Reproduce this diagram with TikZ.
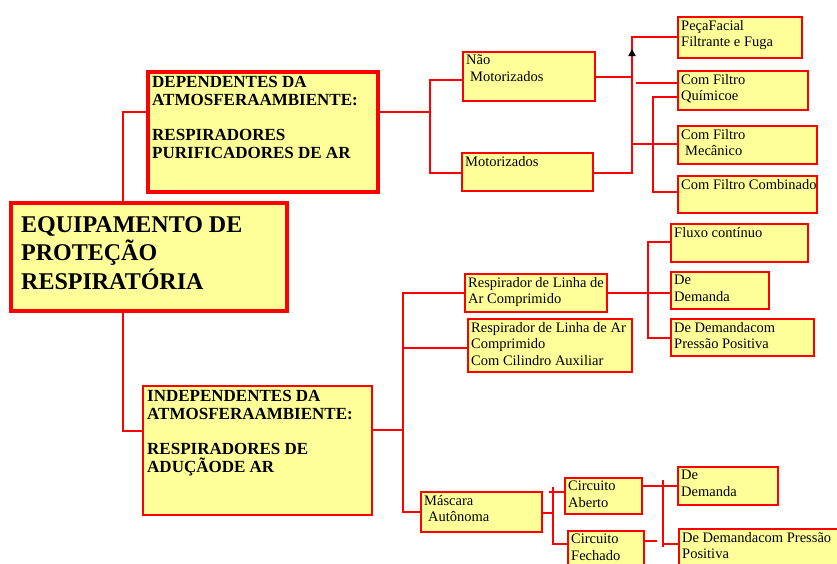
\documentclass[tikz,border=0pt]{standalone}
\usepackage{fontspec}
\setmainfont{Liberation Serif}
\usepackage{tikz}
\usetikzlibrary{arrows.meta,positioning}
\definecolor{boxfill}{RGB}{255,255,153}

\begin{document}
\begin{tikzpicture}[x = 1pt, y = -1pt]
	\tikzstyle{box} = [draw = red, fill = boxfill, line width = 2pt, anchor = north west, outer sep = 0pt, inner sep = 0pt]
	\tikzstyle{bigbox} = [box, line width = 3.5pt]
	\tikzstyle{txt} = [anchor = north west, align = left, inner sep = 3pt, font = \fontsize{14.5}{16.5}\selectfont]
	\tikzstyle{head} = [txt, inner sep = 4pt, font = \bfseries\fontsize{17}{18}\selectfont]
	\tikzstyle{wire} = [draw = red, line width = 1.8pt]
\clip (0,0) rectangle (837,563);
\node[bigbox, minimum width = 276, minimum height = 108] (eqp) at (11,203) {};
\node[txt, inner xsep = 10pt, inner ysep = 13pt, font = \bfseries\fontsize{24}{28.5}\selectfont] (eqp-t) at (eqp.north west) {EQUIPAMENTO DE\\PROTEÇÃO\\RESPIRATÓRIA};
\node[bigbox, minimum width = 230, minimum height = 120] (dep) at (148,72) {};
\node[head] (dep-t) at (dep.north west) {DEPENDENTES DA\\ATMOSFERAAMBIENTE:\\[17pt]RESPIRADORES\\PURIFICADORES DE AR};
\node[box, line width = 2.5pt, minimum width = 229, minimum height = 129] (ind) at (143,386) {};
\node[head] (ind-t) at (ind.north west) {INDEPENDENTES DA\\ATMOSFERAAMBIENTE:\\[17pt]RESPIRADORES DE\\ADUÇÃODE AR};
\node[box, minimum width = 132, minimum height = 49] (nm) at (463,52) {};
\node[txt] (nm-t) at (nm.north west) {Não\\\hspace{4pt}Motorizados};
\node[box, minimum width = 131, minimum height = 38] (mot) at (462,153) {};
\node[txt] (mot-t) at (mot.north west) {Motorizados};
\node[box, minimum width = 124, minimum height = 41] (pf) at (678,17) {};
\node[txt] (pf-t) at (pf.north west) {PeçaFacial\\Filtrante e Fuga};
\node[box, minimum width = 130, minimum height = 39] (cfq) at (678,71) {};
\node[txt] (cfq-t) at (cfq.north west) {Com Filtro\\Químicoe};
\node[box, minimum width = 139, minimum height = 38] (cfm) at (678,126) {};
\node[txt] (cfm-t) at (cfm.north west) {Com Filtro\\\hspace{4pt}Mecânico};
\node[box, minimum width = 139, minimum height = 37] (cfc) at (678,176) {};
\node[txt] (cfc-t) at (cfc.north west) {Com Filtro Combinado};
\node[box, minimum width = 142, minimum height = 38] (r1) at (465,274) {};
\node[txt] (r1-t) at (r1.north west) {Respirador de Linha de\\Ar Comprimido};
\node[box, minimum width = 164, minimum height = 53] (r2) at (468,319) {};
\node[txt] (r2-t) at (r2.north west) {Respirador de Linha de Ar\\Comprimido\\Com Cilindro Auxiliar};
\node[box, minimum width = 137, minimum height = 38] (flx) at (671,224) {};
\node[txt] (flx-t) at (flx.north west) {Fluxo contínuo};
\node[box, minimum width = 98, minimum height = 37] (dd1) at (671,272) {};
\node[txt] (dd1-t) at (dd1.north west) {De\\Demanda};
\node[box, minimum width = 143, minimum height = 37] (dp1) at (671,319) {};
\node[txt] (dp1-t) at (dp1.north west) {De Demandacom\\Pressão Positiva};
\node[box, minimum width = 121, minimum height = 40] (mas) at (421,492) {};
\node[txt] (mas-t) at (mas.north west) {Máscara\\\hspace{4pt}Autônoma};
\node[box, minimum width = 77, minimum height = 36] (ca) at (565,478) {};
\node[txt] (ca-t) at (ca.north west) {Circuito\\Aberto};
\node[box, minimum width = 76, minimum height = 50] (cf) at (568,531) {};
\node[txt] (cf-t) at (cf.north west) {Circuito\\Fechado};
\node[box, minimum width = 100, minimum height = 38] (dd2) at (678,467) {};
\node[txt] (dd2-t) at (dd2.north west) {De\\Demanda};
\node[box, minimum width = 180, minimum height = 50] (dp2) at (679,529) {};
\node[txt] (dp2-t) at (dp2.north west) {De Demandacom Pressão\\Positiva};
\coordinate (a0) at (123,112);
\coordinate (a1) at (123,431);
	\path[wire] (a0 -| dep.west) -- (a0) -- (a0 |- eqp.north);
	\path[wire] (a1 |- eqp.south) -- (a1) -- (a1 -| ind.west);
\coordinate (b0) at (430,112);
\coordinate (b1) at (430,80);
\coordinate (b2) at (430,173);
	\path[wire] (b0 -| dep.east) -- (b0);
	\path[wire] (b1 -| nm.west) -- (b1) -- (b2) -- (b2 -| mot.west);
\coordinate (c0) at (632,37);
\coordinate (c1) at (632,77);
\coordinate (c2) at (632,173);
\coordinate (c3) at (632,144);
\coordinate (c4) at (636,83);
\coordinate (tip0) at (632,60);
\coordinate (tip) at (632,49);
	\path[wire] (c1 -| nm.east) -- (c1);
	\path[wire] (c2 -| mot.east) -- (c2) -- (c0) -- (c0 -| pf.west);
	\path[wire] (c3) -- (c3 -| cfm.west);
	\path[wire] (c4) -- (c4 -| cfq.west);
	\path[wire, -{Triangle[length = 7pt, width = 7pt, color = black]}] (tip0) -- (tip);
\coordinate (d0) at (653,97);
\coordinate (d1) at (653,192);
	\path[wire] (d0 -| cfq.west) -- (d0) -- (d1) -- (d1 -| cfc.west);
\coordinate (e0) at (403,430);
\coordinate (e1) at (403,293);
\coordinate (e2) at (403,348);
\coordinate (e3) at (403,512);
	\path[wire] (e0 -| ind.east) -- (e0);
	\path[wire] (e1 -| r1.west) -- (e1) -- (e3) -- (e3 -| mas.west);
	\path[wire] (e2) -- (e2 -| r2.west);
\coordinate (f0) at (648,242);
\coordinate (f1) at (648,293);
\coordinate (f2) at (648,338);
	\path[wire] (f1 -| r1.east) -- (f1 -| dd1.west);
	\path[wire] (f0 -| flx.west) -- (f0) -- (f2) -- (f2 -| dp1.west);
\coordinate (g0) at (553,513);
\coordinate (g1) at (553,487);
\coordinate (g2) at (553,544);
\coordinate (g3) at (549,492);
	\path[wire] (g0 -| mas.east) -- (g0);
	\path[wire] (g1) -- (g2) -- (g2 -| cf.west);
	\path[wire] (g3) -- (g3 -| ca.west);
\coordinate (h0) at (663,480);
\coordinate (h1) at (663,547);
\coordinate (h2) at (663,486);
\coordinate (h3) at (663,544);
\coordinate (h4) at (657,541);
	\path[wire] (h2 -| ca.east) -- (h2 -| dd2.west);
	\path[wire] (h0) -- (h1);
	\path[wire] (h4 -| cf.east) -- (h4);
	\path[wire] (h3) -- (h3 -| dp2.west);
\end{tikzpicture}
\end{document}
